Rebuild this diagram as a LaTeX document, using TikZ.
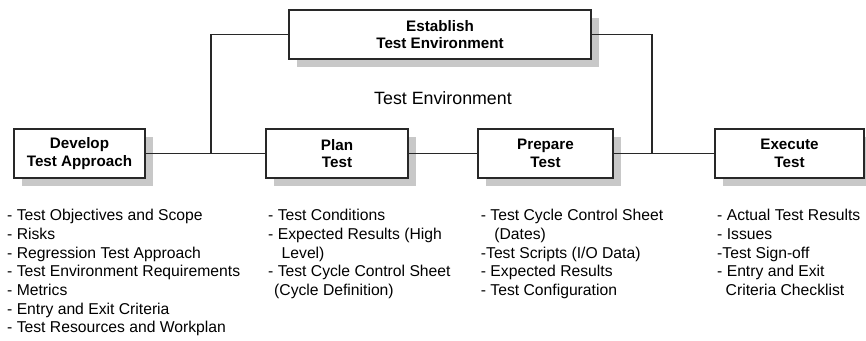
\documentclass[tikz,border=0pt]{standalone}
\usepackage{fontspec}
\setmainfont{Liberation Sans}
\usetikzlibrary{shadows}
\definecolor{shadowgray}{RGB}{200,200,200}
\definecolor{linegray}{RGB}{40,40,40}
\tikzset{
  stagebox/.style={draw=linegray, line width=1.1pt, fill=white, inner sep=0pt,
    minimum height=49pt, align=center,
    font=\fontsize{15.2}{17.6}\selectfont\bfseries,
    drop shadow={shadow xshift=8pt, shadow yshift=-8pt, fill=shadowgray, opacity=1}},
  conn/.style={draw=linegray, line width=1.1pt},
  listtext/.style={anchor=base west, inner sep=0pt, align=left,
    font=\fontsize{15.7}{18.7}\selectfont},
}
\begin{document}
\begin{tikzpicture}[x=1pt,y=-1pt]
\useasboundingbox (0,0) rectangle (866,340);
\node[stagebox, minimum width=131pt] (dev) at (79.5,153.5) {Develop\\Test Approach};
\node[stagebox, minimum width=142pt] (plan) at (337,153.5) {Plan\\Test};
\node[stagebox, minimum width=302pt] (est) at (440,34.5) {Establish\\Test Environment};
\node[stagebox, minimum width=135pt] (prep) at (545.5,153.5) {Prepare\\Test};
\node[stagebox, minimum width=149pt] (exec) at (789.5,153.5) {Execute\\Test};

\coordinate (j1) at (211,153.5);
\coordinate (j2) at (652,153.5);
\draw[conn] (dev.east) -- (plan.west);
\draw[conn] (plan.east) -- (prep.west);
\draw[conn] (prep.east) -- (exec.west);
\draw[conn] (j1) |- (est.west);
\draw[conn] (j2) |- (est.east);

\node[anchor=base, inner sep=0pt, font=\fontsize{17.8}{20}\selectfont] (envlabel) at (443,104) {Test Environment};

% anchor = baseline of the last line
\node[listtext] (l1) at (7,332.9) {- Test Objectives and Scope\\- Risks\\- Regression Test Approach\\- Test Environment Requirements\\- Metrics\\- Entry and Exit Criteria\\- Test Resources and Workplan};
\node[listtext] (l2) at (268,295.5) {- Test Conditions\\- Expected Results (High\\\hspace{13.5pt}Level)\\- Test Cycle Control Sheet\\\hspace{6pt}(Cycle Definition)};
\node[listtext] (l3) at (480.7,295.5) {- Test Cycle Control Sheet\\\hspace{13.5pt}(Dates)\\-Test Scripts (I/O Data)\\- Expected Results\\- Test Configuration};
\node[listtext] (l4) at (717,295.5) {- Actual Test Results\\- Issues\\-Test Sign-off\\- Entry and Exit\\\hspace{8.5pt}Criteria Checklist};
\end{tikzpicture}
\end{document}
